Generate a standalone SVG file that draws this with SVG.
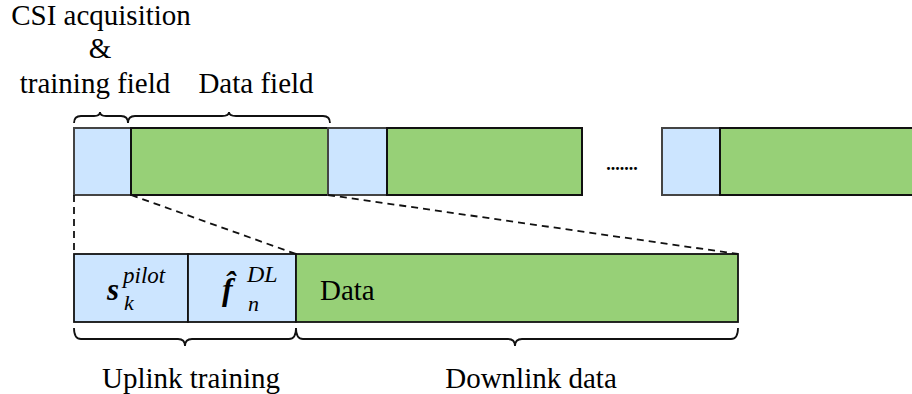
<svg xmlns="http://www.w3.org/2000/svg" width="912" height="394" viewBox="0 0 912 394">
  <style>
    .lbl { font-family: "Liberation Serif", "Times New Roman", serif; font-size: 29px; fill: #000; }
    .pilot { fill: #cce5ff; stroke: #444; stroke-width: 2; }
    .data { fill: #97d077; stroke: #111; stroke-width: 2; }
    .pilot2 { fill: #cce5ff; stroke: #111; stroke-width: 1.8; }
    .data2 { fill: #97d077; stroke: #111; stroke-width: 1.8; }
    .brace { fill: none; stroke: #111; stroke-width: 1.8; }
    .dash { fill: none; stroke: #111; stroke-width: 1.8; stroke-dasharray: 7 5; }
    .math { font-family: "Liberation Serif", "Times New Roman", serif; font-style: italic; fill: #000; }
  </style>

  <!-- header labels -->
  <g id="labels-top">
    <text class="lbl" x="101" y="25" text-anchor="middle">CSI acquisition</text>
    <text class="lbl" x="100" y="58" text-anchor="middle">&amp;</text>
    <text class="lbl" x="95" y="93" text-anchor="middle">training field</text>
    <text class="lbl" x="256" y="93" text-anchor="middle">Data field</text>
  </g>

  <!-- frame sequence -->
  <g id="frame1">
    <rect class="pilot" x="74" y="128" width="57" height="67"/>
    <rect class="data" x="131" y="128" width="197" height="67"/>
  </g>
  <g id="frame2">
    <rect class="pilot" x="328" y="128" width="59" height="67"/>
    <rect class="data" x="387" y="128" width="195" height="67"/>
  </g>
  <g id="ellipsis">
    <text x="622" y="170" text-anchor="middle" font-family="Liberation Serif, serif" font-size="18" font-weight="bold">.......</text>
  </g>
  <g id="frame3">
    <rect class="pilot" x="662" y="128" width="58" height="67"/>
    <rect class="data" x="720" y="128" width="200" height="67"/>
  </g>

  <!-- expanded frame -->
  <g id="pilot-block">
    <rect class="pilot2" x="74" y="254" width="114" height="68"/>
    <text class="math" x="107" y="300" font-size="31" font-weight="bold">s</text>
    <text class="math" x="123" y="283" font-size="23">pilot</text>
    <text class="math" x="124" y="310" font-size="22">k</text>
  </g>
  <g id="feedback-block">
    <rect class="pilot2" x="188" y="254" width="108" height="68"/>
    <text class="math" x="222" y="300" font-size="32" font-weight="bold">f&#x302;</text>
    <text class="math" x="247" y="282" font-size="24">DL</text>
    <text class="math" x="248" y="311" font-size="22">n</text>
  </g>
  <g id="data-block">
    <rect class="data2" x="296" y="254" width="442" height="68"/>
    <text class="lbl" x="320" y="300">Data</text>
  </g>

  <!-- braces, dashed zoom lines -->
  <g id="connectors">
    <path class="brace" d="M74,123 Q74,116 81,116 L94,116 Q100,116 100,112 Q100,116 106,116 L121,116 Q128,116 128,123"/>
    <path class="brace" d="M128,123 Q128,116 135,116 L222,116 Q229,116 229,112 Q229,116 236,116 L323,116 Q330,116 330,123"/>
    <path class="dash" d="M74,195 L74,254"/>
    <path class="dash" d="M131,195 L296,254"/>
    <path class="dash" d="M328,195 L738,254"/>
    <path class="brace" d="M74,328 Q74,339 81,339 L178,339 Q185,339 185,346 Q185,339 192,339 L289,339 Q296,339 296,328"/>
    <path class="brace" d="M296,328 Q296,339 303,339 L508,339 Q515,339 515,346 Q515,339 522,339 L731,339 Q738,339 738,328"/>
  </g>

  <g id="labels-bottom">
    <text class="lbl" x="191" y="388" text-anchor="middle">Uplink training</text>
    <text class="lbl" x="531" y="388" text-anchor="middle">Downlink data</text>
  </g>
</svg>
